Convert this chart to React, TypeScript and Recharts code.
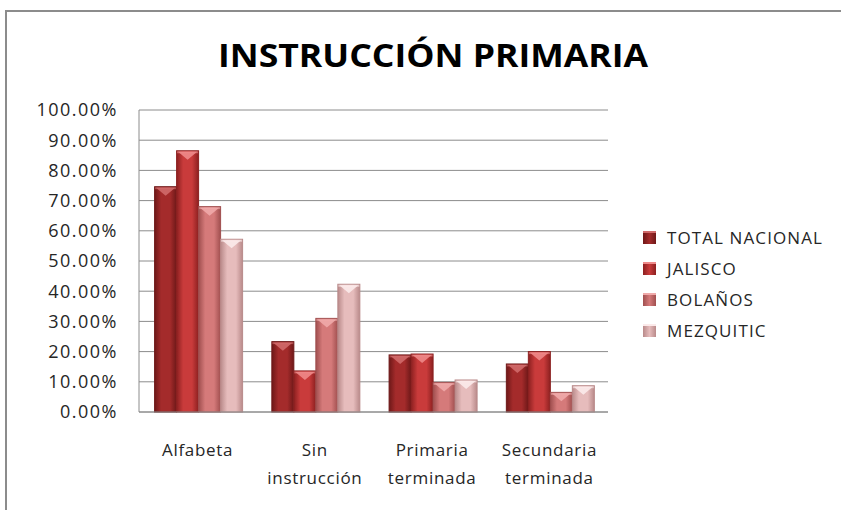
import React from 'react';
import { BarChart, Bar, XAxis, YAxis, CartesianGrid, Legend } from 'recharts';

// Categories and the four series (percent values)
const categories = ['Alfabeta', 'Sin instrucción', 'Primaria terminada', 'Secundaria terminada'];
const totalNacional = [74.6, 23.3, 18.9, 15.9];
const jalisco = [86.5, 13.6, 19.2, 20.0];
const bolanos = [68.0, 31.0, 9.8, 6.5];
const mezquitic = [57.2, 42.3, 10.6, 8.7];
const yTicks = [0, 10, 20, 30, 40, 50, 60, 70, 80, 90, 100];

const seriesNames = ['TOTAL NACIONAL', 'JALISCO', 'BOLAÑOS', 'MEZQUITIC'];

// edge / centre / top highlight colours for each series
const palette = [
    { id: 'tn', edge: '#6e1818', mid: '#a42b2b', top: '#d06a6a' },
    { id: 'ja', edge: '#8c2020', mid: '#c93b3b', top: '#ee8a8a' },
    { id: 'bo', edge: '#a04f4f', mid: '#d57a7a', top: '#f0aaaa' },
    { id: 'me', edge: '#b98a8a', mid: '#e6bcbc', top: '#fbeaea' },
];

const data = categories.map((name, i) => ({
    name,
    tn: totalNacional[i],
    ja: jalisco[i],
    bo: bolanos[i],
    me: mezquitic[i],
}));

const FONT = '"Open Sans", "Liberation Sans", sans-serif';
const TEXT = '#262626';

// bar drawn with a soft bevel, like the old Office look
const BevelBar = (idx: number) => (props: any) => {
    const { x, y, width, height } = props;
    if (!height || height <= 0) return null;
    const p = palette[idx];
    const cap = Math.min(9, height / 2);
    return (
        <g>
            <rect x={x} y={y} width={width} height={height} fill={`url(#grad-${p.id})`} stroke={p.edge} strokeWidth={1} />
            <polygon
                points={`${x + 1.5},${y + 1} ${x + width - 1.5},${y + 1} ${x + width / 2},${y + cap}`}
                fill={p.top}
                opacity={0.9}
            />
            <rect x={x + 0.5} y={y + 0.5} width={width - 1} height={2} fill={p.top} opacity={0.6} />
        </g>
    );
};

const CategoryTick = (props: any) => {
    const { x, y, payload } = props;
    const lines = String(payload.value).split(' ');
    return (
        <text x={x} y={y + 36} textAnchor="middle" fill={TEXT} fontFamily={FONT} fontSize={17} letterSpacing={0.7}>
            {lines.map((l, i) => (
                <tspan key={i} x={x} dy={i === 0 ? 0 : 28}>{l}</tspan>
            ))}
        </text>
    );
};

const LegendBox = () => (
    <div style={{ fontFamily: FONT, fontSize: 17, color: TEXT, letterSpacing: 1.1 }}>
        {seriesNames.map((s, i) => (
            <div key={s} style={{ display: 'flex', alignItems: 'center', height: 31 }}>
                <span
                    style={{
                        width: 13,
                        height: 13,
                        marginRight: 11,
                        background: `linear-gradient(90deg, ${palette[i].edge}, ${palette[i].mid} 50%, ${palette[i].edge})`,
                        boxShadow: `inset 0 2px 0 ${palette[i].top}`,
                    }}
                />
                <span>{s}</span>
            </div>
        ))}
    </div>
);

export default function App() {
    return (
        <div style={{ position: 'absolute', left: 0, top: 0, width: 841, height: 510, background: '#fff', overflow: 'hidden' }}>
            {/* chart frame, runs off the right and bottom edges */}
            <div
                style={{
                    position: 'absolute',
                    left: 5,
                    top: 10,
                    width: 900,
                    height: 600,
                    borderLeft: '2px solid #8c8c8c',
                    borderTop: '2px solid #8c8c8c',
                }}
            />
            <svg width={841} height={90} style={{ position: 'absolute', left: 0, top: 0 }}>
                <text
                    x={433}
                    y={67}
                    textAnchor="middle"
                    fontFamily={FONT}
                    fontWeight={700}
                    fontSize={33}
                    fill="#000"
                    textLength={430}
                    lengthAdjust="spacingAndGlyphs"
                >
                    INSTRUCCIÓN PRIMARIA
                </text>
            </svg>
            <div style={{ position: 'absolute', left: 0, top: 0 }}>
                <BarChart
                    width={841}
                    height={510}
                    data={data}
                    margin={{ top: 110, right: 33, bottom: 38, left: 0 }}
                    barCategoryGap="13.3%"
                    barGap={0}
                >
                    <defs>
                        {palette.map(p => (
                            <linearGradient key={p.id} id={`grad-${p.id}`} x1="0" y1="0" x2="1" y2="0">
                                <stop offset="0%" stopColor={p.edge} />
                                <stop offset="30%" stopColor={p.mid} />
                                <stop offset="70%" stopColor={p.mid} />
                                <stop offset="100%" stopColor={p.edge} />
                            </linearGradient>
                        ))}
                    </defs>
                    <CartesianGrid vertical={false} stroke="#8c8c8c" />
                    <XAxis
                        dataKey="name"
                        height={60}
                        tick={<CategoryTick />}
                        tickLine={false}
                        axisLine={{ stroke: '#8c8c8c' }}
                        interval={0}
                    />
                    <YAxis
                        width={139}
                        domain={[0, 100]}
                        ticks={yTicks}
                        tickFormatter={(v: number) => `${v.toFixed(2)}%`}
                        tick={{ fill: TEXT, fontFamily: FONT, fontSize: 18, letterSpacing: 1.5 }}
                        tickLine={false}
                        tickSize={0}
                        tickMargin={21}
                        axisLine={{ stroke: '#8c8c8c' }}
                        interval={0}
                    />
                    <Legend
                        layout="vertical"
                        verticalAlign="top"
                        align="right"
                        content={<LegendBox />}
                        wrapperStyle={{ position: 'absolute', left: 643, top: 222, width: 200 }}
                    />
                    <Bar dataKey="tn" name={seriesNames[0]} shape={BevelBar(0)} isAnimationActive={false} />
                    <Bar dataKey="ja" name={seriesNames[1]} shape={BevelBar(1)} isAnimationActive={false} />
                    <Bar dataKey="bo" name={seriesNames[2]} shape={BevelBar(2)} isAnimationActive={false} />
                    <Bar dataKey="me" name={seriesNames[3]} shape={BevelBar(3)} isAnimationActive={false} />
                </BarChart>
            </div>
        </div>
    );
}
